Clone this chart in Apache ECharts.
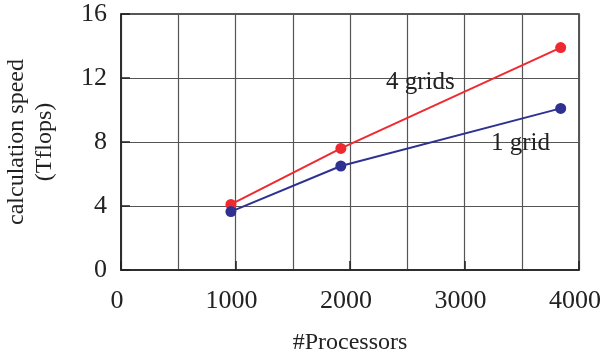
<!DOCTYPE html>
<html><head><meta charset="utf-8">
<script src="https://cdn.jsdelivr.net/npm/echarts@6/dist/echarts.min.js"></script>
<style>html,body{margin:0;padding:0;background:#fff}#c{width:601px;height:353px}</style>
</head><body><div id="c"></div>
<script>
const processors = [960, 1920, 3840];
const fourGrids = [4.1, 7.6, 13.9];
const oneGrid = [3.65, 6.5, 10.1];
const xTicks = [0, 1000, 2000, 3000, 4000];
const yTicks = [0, 4, 8, 12, 16];
const seriesNames = ['4 grids', '1 grid'];

const font = 'Liberation Serif';
const chart = echarts.init(document.getElementById('c'));
chart.setOption({
  animation: false,
  grid: {left: 121, right: 22, top: 14, bottom: 83, show: true, borderColor: '#222', borderWidth: 1.5, containLabel: false, outerBoundsMode: 'none'},
  xAxis: {
    type: 'value', min: xTicks[0], max: xTicks[xTicks.length-1], interval: 1000,
    name: '#Processors', nameLocation: 'middle', nameGap: 61,
    nameTextStyle: {fontFamily: font, fontSize: 24, color: '#222'},
    axisLine: {show: true, lineStyle: {color: '#222', width: 1.5}},
    axisTick: {show: true, inside: true, length: 9, lineStyle: {color: '#222', width: 1.5}},
    axisLabel: {fontFamily: font, fontSize: 26, color: '#222', margin: 18, padding: [0, 8, 0, 0], formatter: v => String(v)},
    splitLine: {show: true, lineStyle: {color: '#555', width: 1.2}},
    minorTick: {show: false, splitNumber: 2},
    minorSplitLine: {show: true, lineStyle: {color: '#555', width: 1.2}}
  },
  yAxis: {
    type: 'value', min: yTicks[0], max: yTicks[yTicks.length-1], interval: 4,
    name: 'calculation speed\n(Tflops)', nameLocation: 'middle', nameGap: 62,
    nameTextStyle: {fontFamily: font, fontSize: 24, color: '#222', lineHeight: 28},
    axisLine: {show: true, lineStyle: {color: '#222', width: 1.5}},
    axisTick: {show: true, inside: true, length: 9, lineStyle: {color: '#222', width: 1.5}},
    axisLabel: {fontFamily: font, fontSize: 26, color: '#222', margin: 14, formatter: v => String(v)},
    splitLine: {show: true, lineStyle: {color: '#555', width: 1.2}}
  },
  series: [
    {name: seriesNames[0], type: 'line', data: processors.map((x,i)=>[x, fourGrids[i]]),
     symbol: 'circle', symbolSize: 11, itemStyle: {color: '#ee2a30'}, lineStyle: {color: '#ee2a30', width: 2}, z: 3},
    {name: seriesNames[1], type: 'line', data: processors.map((x,i)=>[x, oneGrid[i]]),
     symbol: 'circle', symbolSize: 11, itemStyle: {color: '#2e3192'}, lineStyle: {color: '#2e3192', width: 2}, z: 4}
  ],
  graphic: [
    {type: 'text', left: 386, top: 70, z: 10, style: {text: seriesNames[0], fontFamily: font, fontSize: 25, fill: '#222'}},
    {type: 'text', left: 491, top: 131, z: 10, style: {text: seriesNames[1], fontFamily: font, fontSize: 25, fill: '#222'}}
  ]
});
</script></body></html>
